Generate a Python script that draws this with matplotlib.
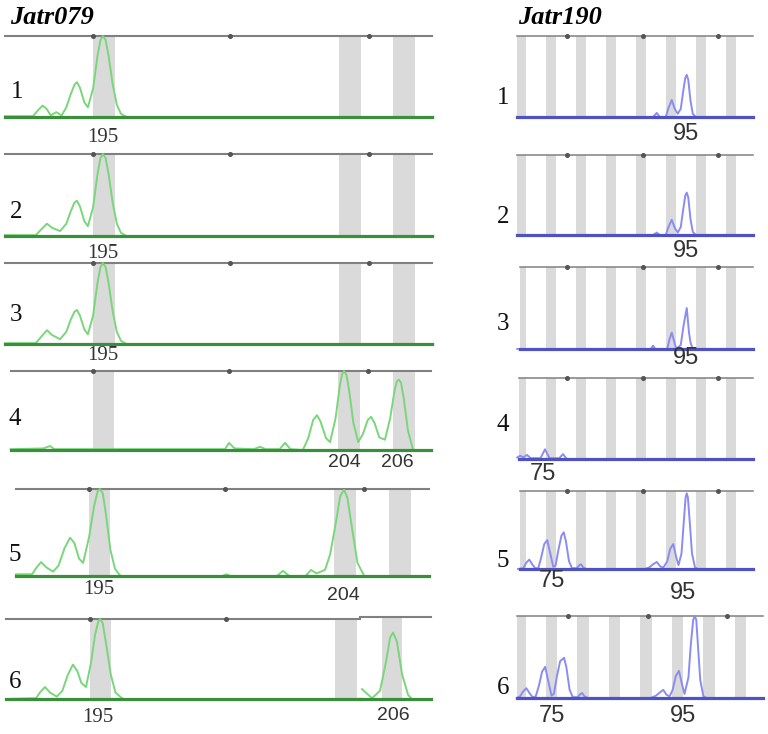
import matplotlib
matplotlib.use("Agg")
import matplotlib.pyplot as plt
from matplotlib.transforms import blended_transform_factory

W, H = 768, 734

# ---- Jatr079 (size in bp, height relative to tallest peak) ----
bins_079 = [195, 204, 206]
ticks_079 = [194.6, 199.6, 204.7]

j079_x = [
    [191.37, 192.4, 192.6, 192.75, 192.9, 193.05, 193.25, 193.45, 193.62, 193.78, 193.92, 194.01,
     194.12, 194.28, 194.41, 194.6, 194.76, 194.87, 194.96, 195.06, 195.17, 195.32, 195.47, 195.62,
     195.82, 207.06],
    [191.37, 192.5, 192.7, 192.91, 193.1, 193.39, 193.62, 193.78, 193.92, 194.01, 194.12, 194.28,
     194.41, 194.6, 194.76, 194.87, 194.96, 195.06, 195.17, 195.32, 195.47, 195.62, 195.82, 207.06],
    [191.37, 192.5, 192.7, 192.91, 193.1, 193.39, 193.62, 193.78, 193.92, 194.01, 194.12, 194.28,
     194.41, 194.6, 194.76, 194.87, 194.96, 195.06, 195.17, 195.32, 195.47, 195.62, 195.82, 207.06],
    [191.6, 192.8, 193.04, 193.2, 199.45, 199.6, 199.8, 200.5, 200.73, 200.95, 201.45, 201.65,
     201.85, 202.3, 202.5, 202.68, 202.82, 202.95, 203.15, 203.3, 203.5, 203.65, 203.74, 203.81,
     203.9, 204.0, 204.15, 204.33, 204.5, 204.68, 204.8, 204.93, 205.1, 205.31, 205.5, 205.66,
     205.75, 205.82, 205.9, 206.0, 206.15, 206.34, 207.0],
    [191.94, 192.53, 192.7, 192.86, 193.05, 193.3, 193.5, 193.72, 193.92, 194.08, 194.25, 194.4,
     194.62, 194.8, 194.93, 195.02, 195.12, 195.24, 195.4, 195.57, 195.77, 199.5, 199.65, 199.8,
     201.5, 201.72, 201.95, 202.55, 202.75, 202.95, 203.26, 203.45, 203.65, 203.82, 203.96, 204.08,
     204.25, 204.45, 204.7, 207.1],
    [191.54, 192.64, 192.8, 192.97, 193.15, 193.4, 193.6, 193.8, 193.99, 194.15, 194.3, 194.47,
     194.65, 194.8, 194.92, 194.98, 195.08, 195.2, 195.38, 195.55, 195.82, 204.5],
]
j079_y = [
    [0.01, 0.01, 0.09, 0.14, 0.1, 0.02, 0.06, 0.02, 0.12, 0.28, 0.4, 0.43,
     0.36, 0.18, 0.12, 0.35, 0.75, 0.95, 1.0, 0.95, 0.75, 0.4, 0.15, 0.04,
     0.0, 0.0],
    [0.01, 0.01, 0.08, 0.15, 0.1, 0.06, 0.15, 0.3, 0.41, 0.43, 0.36, 0.18,
     0.12, 0.35, 0.75, 0.95, 1.0, 0.95, 0.75, 0.4, 0.15, 0.04, 0.0, 0.0],
    [0.01, 0.01, 0.09, 0.17, 0.11, 0.06, 0.15, 0.3, 0.4, 0.42, 0.35, 0.18,
     0.12, 0.35, 0.75, 0.95, 1.0, 0.95, 0.75, 0.4, 0.15, 0.04, 0.0, 0.0],
    [0.01, 0.02, 0.05, 0.01, 0.01, 0.09, 0.02, 0.01, 0.04, 0.01, 0.01, 0.09,
     0.01, 0.0, 0.15, 0.38, 0.44, 0.36, 0.15, 0.1, 0.4, 0.8, 0.96, 1.0,
     0.95, 0.75, 0.35, 0.1, 0.2, 0.38, 0.42, 0.34, 0.16, 0.13, 0.4, 0.75,
     0.87, 0.89, 0.85, 0.65, 0.25, 0.0, 0.0],
    [0.02, 0.02, 0.1, 0.16, 0.1, 0.05, 0.12, 0.32, 0.44, 0.38, 0.2, 0.15,
     0.45, 0.8, 0.97, 1.0, 0.95, 0.7, 0.3, 0.08, 0.0, 0.0, 0.02, 0.0,
     0.0, 0.06, 0.0, 0.0, 0.07, 0.03, 0.07, 0.25, 0.6, 0.92, 0.99, 0.9,
     0.55, 0.15, 0.0, 0.0],
    [0.0, 0.01, 0.09, 0.15, 0.08, 0.03, 0.1, 0.3, 0.43, 0.35, 0.2, 0.15,
     0.45, 0.8, 0.97, 1.0, 0.95, 0.7, 0.3, 0.08, 0.0, 0.0],
]
# right-hand splice of sample 6 (separate run)
j079_6b_x = [204.9, 205.27, 205.56, 205.78, 205.93, 206.04, 206.18, 206.37, 206.59, 206.73, 207.43]
j079_6b_y = [0.12, 0.01, 0.1, 0.45, 0.75, 0.81, 0.7, 0.3, 0.05, 0.0, 0.0]

calls_079 = [
    [("195", 194.96)],
    [("195", 194.96)],
    [("195", 194.96)],
    [("204", 203.84), ("206", 205.75)],
    [("195", 194.98), ("204", 203.92)],
    [("195", 194.9)],
]
calls_079_6b = [("206", 206.03)]

# ---- Jatr190 ----
bins_190 = [71, 75, 79, 83, 87, 91, 95, 99]
ticks_190 = [77.1, 87.3, 97.3]

j190_x = [
    [70.5, 88.6, 89.1, 89.5, 90.3, 90.7, 91.1, 91.5, 91.9, 92.3, 92.6, 92.9, 93.1, 93.3, 93.6,
     93.9, 94.3, 101.9],
    [70.5, 88.6, 89.1, 89.5, 90.3, 90.7, 91.1, 91.5, 91.9, 92.3, 92.6, 92.9, 93.1, 93.3, 93.6,
     93.9, 94.3, 101.9],
    [70.5, 88.3, 88.6, 88.9, 90.5, 90.8, 91.1, 91.4, 91.7, 92.3, 92.7, 93.1, 93.4, 93.6, 93.9,
     101.9],
    [70.5, 70.9, 71.3, 71.8, 72.3, 73.6, 74.2, 74.8, 76.1, 76.6, 77.1, 101.9],
    [70.6, 71.3, 71.7, 72.1, 72.5, 72.9, 73.3, 73.7, 74.1, 74.5, 74.9, 75.3, 75.6, 76.0, 76.4,
     76.7, 77.0, 77.4, 77.8, 78.4, 78.8, 79.0, 79.3, 79.7, 87.5, 88.1, 88.6, 89.1, 89.6, 90.0,
     90.5, 90.9, 91.3, 91.7, 92.0, 92.4, 92.7, 92.95, 93.1, 93.25, 93.5, 93.8, 94.2, 94.6, 101.9],
    [70.6, 71.0, 71.4, 71.8, 72.2, 72.6, 73.0, 73.4, 73.8, 74.2, 74.6, 75.0, 75.3, 75.7, 76.1,
     76.6, 76.9, 77.3, 77.7, 78.3, 78.7, 78.9, 79.2, 79.6, 87.6, 88.3, 88.8, 89.2, 89.6, 90.0,
     90.4, 90.8, 91.2, 91.6, 91.9, 92.4, 92.7, 93.0, 93.2, 93.4, 93.6, 93.9, 94.3, 94.7, 101.9],
]
j190_y = [
    [0.0, 0.0, 0.05, 0.0, 0.0, 0.12, 0.21, 0.1, 0.04, 0.1, 0.3, 0.48, 0.52, 0.46, 0.2,
     0.04, 0.0, 0.0],
    [0.0, 0.0, 0.03, 0.0, 0.0, 0.11, 0.19, 0.09, 0.03, 0.1, 0.3, 0.49, 0.53, 0.47, 0.2,
     0.04, 0.0, 0.0],
    [0.0, 0.0, 0.04, 0.0, 0.0, 0.12, 0.2, 0.1, 0.0, 0.05, 0.3, 0.5, 0.2, 0.08, 0.0,
     0.0],
    [0.02, 0.04, 0.02, 0.05, 0.01, 0.01, 0.12, 0.01, 0.01, 0.06, 0.0, 0.0],
    [0.0, 0.01, 0.08, 0.12, 0.06, 0.01, 0.01, 0.15, 0.32, 0.37, 0.2, 0.03, 0.04, 0.25, 0.43,
     0.47, 0.35, 0.1, 0.01, 0.01, 0.05, 0.06, 0.02, 0.0, 0.0, 0.02, 0.06, 0.09, 0.03, 0.02,
     0.1, 0.26, 0.32, 0.15, 0.05, 0.2, 0.6, 0.92, 0.97, 0.92, 0.6, 0.2, 0.02, 0.0, 0.0],
    [0.0, 0.02, 0.08, 0.12, 0.06, 0.01, 0.02, 0.15, 0.32, 0.38, 0.2, 0.03, 0.05, 0.27, 0.45,
     0.49, 0.37, 0.1, 0.01, 0.01, 0.05, 0.06, 0.02, 0.0, 0.0, 0.03, 0.07, 0.1, 0.04, 0.02,
     0.1, 0.27, 0.33, 0.16, 0.05, 0.25, 0.65, 0.95, 1.0, 0.95, 0.65, 0.22, 0.02, 0.0, 0.0],
]
calls_190 = [
    [("95", 93.0)],
    [("95", 93.0)],
    [("95", 93.0)],
    [("75", 73.9)],
    [("75", 75.1), ("95", 92.6)],
    [("75", 75.06), ("95", 91.7)],
]

# ---- layout in pixels: left, right, top line, baseline, px of reference size ----
left_panels = [(5, 432, 36, 117, 104), (5, 432, 154, 236, 104), (5, 432, 263, 344, 104),
               (11, 431, 371, 450, 103.5), (16, 429, 489, 576, 99.5), (6, 360, 619, 699, 100.5)]
left_6b = (360, 431, 617, 699, 91.7)
left_off = [[20], [17], [12], [13, 13], [14, 19], [19]]
left_nums = [(17, 92), (16, 212), (16, 315), (15, 419), (15, 555), (15, 682)]

right_panels = [(517, 753, 36, 117, 551, 7.5), (517, 753, 155, 235, 551, 7.5),
                (520, 753, 267, 349, 551, 7.5), (519, 753, 378, 459, 551, 7.5),
                (520, 753, 491, 569, 551, 7.5), (517, 763, 616, 698, 551.5, 7.87)]
right_off = [[17], [16], [9], [15], [12, 24], [18, 18]]
right_nums = [(503, 98), (503, 217), (503, 324), (503, 425), (503, 561), (503, 688)]

GREEN = "#7ad67a"
DKGREEN = "#3a8f3a"
BLUE = "#8a8cf2"
DKBLUE = "#4f52c4"
GRAY = "#808080"
BAND = "#dadada"
SERIF = "Liberation Serif"
SANS = "Liberation Sans"

fig = plt.figure(figsize=(W / 100, H / 100), dpi=100)
fig.patch.set_facecolor("white")


def panel(x0, x1, ytop, ybase, xlo, xhi):
    ax = fig.add_axes([x0 / W, 1 - ybase / H, (x1 - x0) / W, (ybase - ytop) / H])
    ax.set_xlim(xlo, xhi)
    ax.set_ylim(0, 1)
    ax.axis("off")
    return ax


def label_font(txt):
    # the 195 calls are typed in a serif face, the others in a sans face
    if txt == "195":
        return 15, SERIF
    if len(txt) == 3:
        return 14, SANS
    return 17, SANS


def draw(ax, bins, hw, ticks, xs, ys, col, dk, topw, calls, offs):
    for b in bins:
        ax.axvspan(b - hw, b + hw, color=BAND, lw=0, zorder=0)
    ax.axhline(1, color=GRAY, lw=topw, zorder=1, clip_on=False)
    lo, hi = ax.get_xlim()
    tk = [t for t in ticks if lo < t < hi]
    ax.plot(tk, [1] * len(tk), "o", ms=2.6, color="#555555", zorder=1, clip_on=False)
    ax.plot(xs, ys, color=col, lw=1.4, zorder=2, clip_on=False, solid_joinstyle="round")
    ax.axhline(0, color=dk, lw=2.3, zorder=3, clip_on=False)
    tr = blended_transform_factory(ax.transData, ax.transAxes)
    for (txt, x), off in zip(calls, offs):
        fs, fam = label_font(txt)
        ax.annotate(txt, xy=(x, 0), xycoords=tr, xytext=(0, -off * 0.72),
                    textcoords="offset points", ha="center", va="center",
                    fontsize=fs, family=fam, color="#333333")


for i, (x0, x1, yt, yb, c) in enumerate(left_panels):
    ax = panel(x0, x1, yt, yb, 195 + (x0 - c) / 27.3, 195 + (x1 - c) / 27.3)
    draw(ax, bins_079, 0.4, ticks_079, j079_x[i], j079_y[i], GREEN, DKGREEN, 1.5,
         calls_079[i], left_off[i])
    fig.text(left_nums[i][0] / W, 1 - left_nums[i][1] / H, str(i + 1), fontsize=18,
             family=SERIF, ha="center", va="center", color="#111111")

x0, x1, yt, yb, c = left_6b
ax = panel(x0, x1, yt, yb, 195 + (x0 - c) / 27.3, 195 + (x1 - c) / 27.3)
draw(ax, bins_079, 0.37, ticks_079, j079_6b_x, j079_6b_y, GREEN, DKGREEN, 1.5,
     calls_079_6b, [17])

for i, (x0, x1, yt, yb, c, s) in enumerate(right_panels):
    ax = panel(x0, x1, yt, yb, 75 + (x0 - c) / s, 75 + (x1 - c) / s)
    draw(ax, bins_190, 0.73, ticks_190, j190_x[i], j190_y[i], BLUE, DKBLUE, 1.1,
         calls_190[i], right_off[i])
    fig.text(right_nums[i][0] / W, 1 - right_nums[i][1] / H, str(i + 1), fontsize=18,
             family=SERIF, ha="center", va="center", color="#111111")

fig.text(10 / W, 1 - 18 / H, "Jatr079", fontsize=19, family=SERIF, weight="bold",
         style="italic", va="center", ha="left")
fig.text(518 / W, 1 - 18 / H, "Jatr190", fontsize=19, family=SERIF, weight="bold",
         style="italic", va="center", ha="left")

fig.savefig("out.png", dpi=100, facecolor="white")
